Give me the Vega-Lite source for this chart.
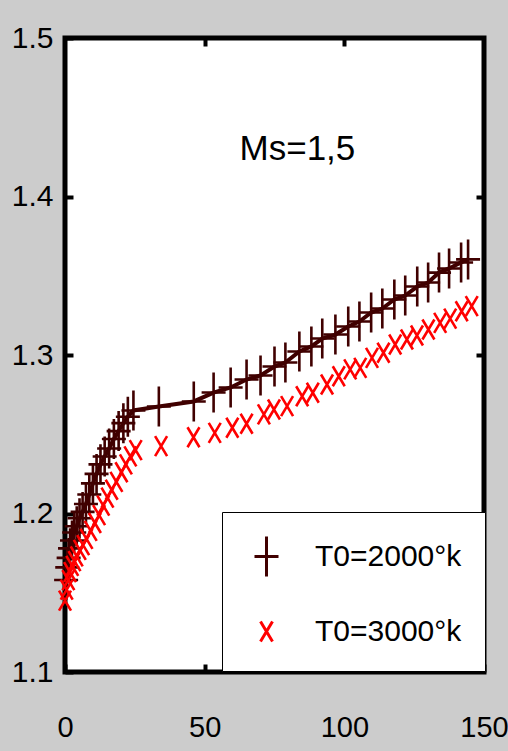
{
  "$schema": "https://vega.github.io/schema/vega-lite/v6.json",
  "autosize": "none",
  "width": 419,
  "height": 634,
  "padding": {"left": 65, "top": 38, "right": 24, "bottom": 79},
  "background": "#cccccc",
  "view": {"fill": "white", "stroke": "black", "strokeWidth": 5},
  "config": {
    "font": "Liberation Sans, Arial, sans-serif"
  },
  "datasets": {
    "pts": [
      {"x": 0.4, "y": 1.158, "s": "T0=2000°k"},
      {"x": 0.8, "y": 1.166, "s": "T0=2000°k"},
      {"x": 1.3, "y": 1.172, "s": "T0=2000°k"},
      {"x": 1.8, "y": 1.178, "s": "T0=2000°k"},
      {"x": 2.5, "y": 1.183, "s": "T0=2000°k"},
      {"x": 3.3, "y": 1.188, "s": "T0=2000°k"},
      {"x": 4.2, "y": 1.192, "s": "T0=2000°k"},
      {"x": 5.2, "y": 1.197, "s": "T0=2000°k"},
      {"x": 6.3, "y": 1.201, "s": "T0=2000°k"},
      {"x": 7.5, "y": 1.206, "s": "T0=2000°k"},
      {"x": 8.7, "y": 1.212, "s": "T0=2000°k"},
      {"x": 10.0, "y": 1.219, "s": "T0=2000°k"},
      {"x": 11.3, "y": 1.225, "s": "T0=2000°k"},
      {"x": 12.7, "y": 1.231, "s": "T0=2000°k"},
      {"x": 14.2, "y": 1.236, "s": "T0=2000°k"},
      {"x": 15.8, "y": 1.241, "s": "T0=2000°k"},
      {"x": 17.5, "y": 1.247, "s": "T0=2000°k"},
      {"x": 19.2, "y": 1.252, "s": "T0=2000°k"},
      {"x": 20.9, "y": 1.257, "s": "T0=2000°k"},
      {"x": 22.5, "y": 1.261, "s": "T0=2000°k"},
      {"x": 24.5, "y": 1.265, "s": "T0=2000°k"},
      {"x": 33.6, "y": 1.2675, "s": "T0=2000°k"},
      {"x": 46.1, "y": 1.2707, "s": "T0=2000°k"},
      {"x": 53.2, "y": 1.2763, "s": "T0=2000°k"},
      {"x": 59.3, "y": 1.2795, "s": "T0=2000°k"},
      {"x": 65.0, "y": 1.2845, "s": "T0=2000°k"},
      {"x": 70.0, "y": 1.2871, "s": "T0=2000°k"},
      {"x": 75.0, "y": 1.2927, "s": "T0=2000°k"},
      {"x": 78.9, "y": 1.2953, "s": "T0=2000°k"},
      {"x": 83.9, "y": 1.3022, "s": "T0=2000°k"},
      {"x": 88.2, "y": 1.3054, "s": "T0=2000°k"},
      {"x": 92.1, "y": 1.3104, "s": "T0=2000°k"},
      {"x": 96.8, "y": 1.3129, "s": "T0=2000°k"},
      {"x": 101.4, "y": 1.318, "s": "T0=2000°k"},
      {"x": 105.4, "y": 1.3211, "s": "T0=2000°k"},
      {"x": 109.6, "y": 1.3268, "s": "T0=2000°k"},
      {"x": 113.6, "y": 1.3293, "s": "T0=2000°k"},
      {"x": 117.9, "y": 1.335, "s": "T0=2000°k"},
      {"x": 121.8, "y": 1.3375, "s": "T0=2000°k"},
      {"x": 126.1, "y": 1.3432, "s": "T0=2000°k"},
      {"x": 130.0, "y": 1.3457, "s": "T0=2000°k"},
      {"x": 133.9, "y": 1.352, "s": "T0=2000°k"},
      {"x": 137.5, "y": 1.3546, "s": "T0=2000°k"},
      {"x": 141.8, "y": 1.3584, "s": "T0=2000°k"},
      {"x": 144.3, "y": 1.3603, "s": "T0=2000°k"},
      {"x": 0.0, "y": 1.145, "s": "T0=3000°k"},
      {"x": 0.6, "y": 1.152, "s": "T0=3000°k"},
      {"x": 1.2, "y": 1.158, "s": "T0=3000°k"},
      {"x": 1.8, "y": 1.163, "s": "T0=3000°k"},
      {"x": 2.6, "y": 1.167, "s": "T0=3000°k"},
      {"x": 3.4, "y": 1.17, "s": "T0=3000°k"},
      {"x": 4.2, "y": 1.173, "s": "T0=3000°k"},
      {"x": 5.3, "y": 1.177, "s": "T0=3000°k"},
      {"x": 6.5, "y": 1.18, "s": "T0=3000°k"},
      {"x": 7.7, "y": 1.184, "s": "T0=3000°k"},
      {"x": 9.2, "y": 1.189, "s": "T0=3000°k"},
      {"x": 10.7, "y": 1.194, "s": "T0=3000°k"},
      {"x": 12.2, "y": 1.199, "s": "T0=3000°k"},
      {"x": 13.7, "y": 1.205, "s": "T0=3000°k"},
      {"x": 15.2, "y": 1.21, "s": "T0=3000°k"},
      {"x": 16.7, "y": 1.215, "s": "T0=3000°k"},
      {"x": 18.4, "y": 1.22, "s": "T0=3000°k"},
      {"x": 20.2, "y": 1.226, "s": "T0=3000°k"},
      {"x": 21.8, "y": 1.231, "s": "T0=3000°k"},
      {"x": 23.4, "y": 1.236, "s": "T0=3000°k"},
      {"x": 25.3, "y": 1.24, "s": "T0=3000°k"},
      {"x": 34.4, "y": 1.2425, "s": "T0=3000°k"},
      {"x": 46.0, "y": 1.2481, "s": "T0=3000°k"},
      {"x": 53.6, "y": 1.2509, "s": "T0=3000°k"},
      {"x": 59.9, "y": 1.2541, "s": "T0=3000°k"},
      {"x": 65.0, "y": 1.2566, "s": "T0=3000°k"},
      {"x": 71.2, "y": 1.2625, "s": "T0=3000°k"},
      {"x": 74.8, "y": 1.2656, "s": "T0=3000°k"},
      {"x": 79.5, "y": 1.2677, "s": "T0=3000°k"},
      {"x": 84.9, "y": 1.274, "s": "T0=3000°k"},
      {"x": 88.7, "y": 1.2762, "s": "T0=3000°k"},
      {"x": 93.8, "y": 1.2814, "s": "T0=3000°k"},
      {"x": 98.0, "y": 1.2866, "s": "T0=3000°k"},
      {"x": 102.1, "y": 1.2909, "s": "T0=3000°k"},
      {"x": 105.7, "y": 1.2919, "s": "T0=3000°k"},
      {"x": 109.9, "y": 1.2982, "s": "T0=3000°k"},
      {"x": 114.0, "y": 1.3014, "s": "T0=3000°k"},
      {"x": 118.2, "y": 1.3066, "s": "T0=3000°k"},
      {"x": 122.4, "y": 1.3098, "s": "T0=3000°k"},
      {"x": 126.0, "y": 1.3123, "s": "T0=3000°k"},
      {"x": 130.1, "y": 1.3161, "s": "T0=3000°k"},
      {"x": 134.3, "y": 1.3203, "s": "T0=3000°k"},
      {"x": 137.9, "y": 1.323, "s": "T0=3000°k"},
      {"x": 142.0, "y": 1.3276, "s": "T0=3000°k"},
      {"x": 145.6, "y": 1.3308, "s": "T0=3000°k"}
    ]
  },
  "layer": [
    {
      "data": {"name": "pts"},
      "transform": [{"filter": "datum.s == 'T0=2000°k'"}],
      "mark": {"type": "line", "color": "#400000", "strokeWidth": 4, "interpolate": "linear"},
      "encoding": {
        "x": {"field": "x", "type": "quantitative",
          "scale": {"domain": [0, 150], "nice": false, "zero": false},
          "axis": {"orient": "bottom", "values": [0, 50, 100, 150], "title": null, "domain": false, "grid": false,
            "ticks": true, "tickSize": -8, "tickWidth": 4, "tickColor": "black",
            "labelFontSize": 29, "labelColor": "black", "labelPadding": 49, "labelFlush": false, "labelBaseline": "top"}},
        "y": {"field": "y", "type": "quantitative",
          "scale": {"domain": [1.1, 1.5], "nice": false, "zero": false},
          "axis": {"orient": "left", "values": [1.1, 1.2, 1.3, 1.4, 1.5], "format": ".1f", "title": null, "domain": false, "grid": false,
            "ticks": true, "tickSize": -8, "tickWidth": 4, "tickColor": "black",
            "labelFontSize": 30, "labelColor": "black", "labelPadding": 20, "labelFlush": false, "labelBaseline": "middle"}}
      }
    },
    {
      "data": {"name": "pts"},
      "mark": {"type": "point", "filled": false, "strokeWidth": 2.6, "size": 1600, "opacity": 1},
      "encoding": {
        "x": {"field": "x", "type": "quantitative",
          "axis": {"orient": "top", "values": [50, 100], "labels": false, "title": null, "domain": false, "grid": false,
            "tickSize": -8, "tickWidth": 4, "tickColor": "black"}},
        "y": {"field": "y", "type": "quantitative",
          "axis": {"orient": "right", "values": [1.2, 1.3, 1.4], "labels": false, "title": null, "domain": false, "grid": false,
            "tickSize": -8, "tickWidth": 4, "tickColor": "black"}},
        "color": {"field": "s", "type": "nominal",
          "scale": {"domain": ["T0=2000°k", "T0=3000°k"], "range": ["#400000", "#ff0000"]},
          "legend": {"orient": "none", "legendX": 157, "legendY": 474, "title": null,
            "strokeColor": "black", "fillColor": "white", "padding": 23,
            "symbolSize": 1600, "symbolStrokeWidth": 3, "labelFontSize": 30, "labelColor": "black",
            "labelOffset": 27, "rowPadding": 27, "labelLimit": 400,
            "encode": {
              "legend": {"update": {"strokeWidth": {"value": 5}}},
              "symbols": {"update": {"shape": {"signal": "datum.value == 'T0=2000°k' ? 'M-1.27,0H1.27M0,-1V1' : 'M-0.3,-0.5L0.3,0.5M-0.3,0.5L0.3,-0.5'"}}}}}},
        "shape": {"field": "s", "type": "nominal",
          "scale": {"domain": ["T0=2000°k", "T0=3000°k"], "range": ["M-0.6,0H0.6M0,-1V1", "M-0.3,-0.5L0.3,0.5M-0.3,0.5L0.3,-0.5"]},
          "legend": null}
      }
    },
    {
      "data": {"values": [{"x": 83.2, "y": 1.4233, "t": "Ms=1,5"}]},
      "mark": {"type": "text", "fontSize": 35, "color": "black", "align": "center", "baseline": "alphabetic"},
      "encoding": {
        "x": {"field": "x", "type": "quantitative", "axis": null},
        "y": {"field": "y", "type": "quantitative", "axis": null},
        "text": {"field": "t"}
      }
    }
  ],
  "resolve": {"axis": {"x": "independent", "y": "independent"}}
}
